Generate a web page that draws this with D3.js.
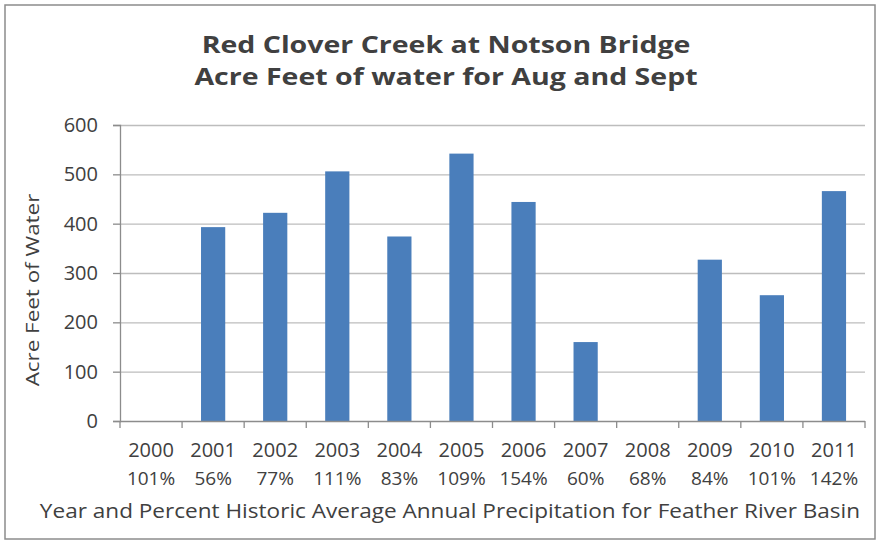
<!DOCTYPE html>
<html>
<head>
<meta charset="utf-8">
<script src="https://cdn.jsdelivr.net/npm/d3@7"></script>
<style>
  html, body { margin: 0; padding: 0; background: #fff; }
  svg { display: block; }
  text { font-family: "Open Sans", sans-serif; fill: #404040; }
</style>
</head>
<body>
<svg id="chart" width="880" height="541"></svg>
<script>
const years = ["2000","2001","2002","2003","2004","2005","2006","2007","2008","2009","2010","2011"];
const precip = ["101%","56%","77%","111%","83%","109%","154%","60%","68%","84%","101%","142%"];
const acreFeet = [0, 393, 422, 506, 374, 542, 444, 160, 0, 327, 255, 466];
const yTicks = [0, 100, 200, 300, 400, 500, 600];
const titleLines = ["Red Clover Creek at Notson Bridge", "Acre Feet of water for Aug and Sept"];
const yTitle = "Acre Feet of Water";
const xTitle = "Year and Percent Historic Average Annual Precipitation for Feather River Basin";

const svg = d3.select("#chart");
const W = 880, H = 541;
const m = {left: 120, right: 15, top: 125, bottom: 120};
const plotW = W - m.left - m.right;
const plotH = H - m.top - m.bottom;

// outer frame
svg.append("rect").attr("x", 5).attr("y", 5).attr("width", 870).attr("height", 534)
  .attr("fill", "#fff").attr("stroke", "#8c8c8c").attr("stroke-width", 1.5);

const x = d3.scaleBand().domain(years).range([0, plotW]).paddingInner(0.61).paddingOuter(0.305);
const y = d3.scaleLinear().domain([0, 600]).range([plotH, 0]);

const g = svg.append("g").attr("transform", `translate(${m.left},${m.top})`);

// gridlines
g.append("g").selectAll("line").data(yTicks.filter(d => d > 0)).join("line")
  .attr("x1", 0).attr("x2", plotW)
  .attr("y1", d => y(d) + 0.5).attr("y2", d => y(d) + 0.5)
  .attr("stroke", "#bdbdbd").attr("stroke-width", 1.3);

// bars
g.append("g").selectAll("rect").data(years).join("rect")
  .attr("x", (d) => x(d))
  .attr("y", (d, i) => y(acreFeet[i]))
  .attr("width", x.bandwidth())
  .attr("height", (d, i) => plotH - y(acreFeet[i]))
  .attr("fill", "#4a7ebb");

// y axis
const yAxis = d3.axisLeft(y).tickValues(yTicks).tickSize(7).tickPadding(15);
const yG = g.append("g").call(yAxis);
yG.select(".domain").attr("stroke", "#8c8c8c").attr("stroke-width", 1.3);
yG.selectAll(".tick line").attr("stroke", "#8c8c8c").attr("stroke-width", 1.3);
yG.selectAll(".tick text").style("font-family", "Open Sans, sans-serif").style("font-size", "20px").attr("fill", "#404040");

// x axis: line + ticks at category boundaries
const xG = g.append("g").attr("transform", `translate(0,${plotH})`);
xG.append("line").attr("x1", 0).attr("x2", plotW).attr("y1", 0.5).attr("y2", 0.5)
  .attr("stroke", "#8c8c8c").attr("stroke-width", 1.3);
const step = x.step();
xG.selectAll("line.tk").data(d3.range(years.length + 1)).join("line").attr("class", "tk")
  .attr("x1", i => x(years[0]) - x.paddingOuter() * step + i * step)
  .attr("x2", i => x(years[0]) - x.paddingOuter() * step + i * step)
  .attr("y1", 0).attr("y2", 7)
  .attr("stroke", "#8c8c8c").attr("stroke-width", 1.3);

xG.selectAll("text.yr").data(years).join("text").attr("class", "yr")
  .attr("x", d => x(d) + x.bandwidth() / 2).attr("y", 36)
  .attr("text-anchor", "middle").style("font-size", "20px").text(d => d);
xG.selectAll("text.pc").data(years).join("text").attr("class", "pc")
  .attr("x", d => x(d) + x.bandwidth() / 2).attr("y", 64)
  .attr("text-anchor", "middle").style("font-size", "19px").text((d, i) => precip[i]);

// axis titles (horizontally stretched like the reference picture)
svg.append("text").attr("transform", "translate(450,518) scale(1.158,1)").attr("text-anchor", "middle")
  .style("font-size", "19.5px").text(xTitle);
svg.append("text").attr("transform", "translate(39,290) rotate(-90) scale(1.18,1)")
  .attr("text-anchor", "middle").style("font-size", "19px").text(yTitle);

// title
svg.selectAll("text.title").data(titleLines).join("text").attr("class", "title")
  .attr("transform", (d, i) => `translate(446,${53 + i * 32}) scale(1.24,1)`)
  .attr("text-anchor", "middle")
  .style("font-size", "23px").style("font-weight", "bold")
  .attr("fill", "#1a1a1a").text(d => d);
</script>
</body>
</html>
